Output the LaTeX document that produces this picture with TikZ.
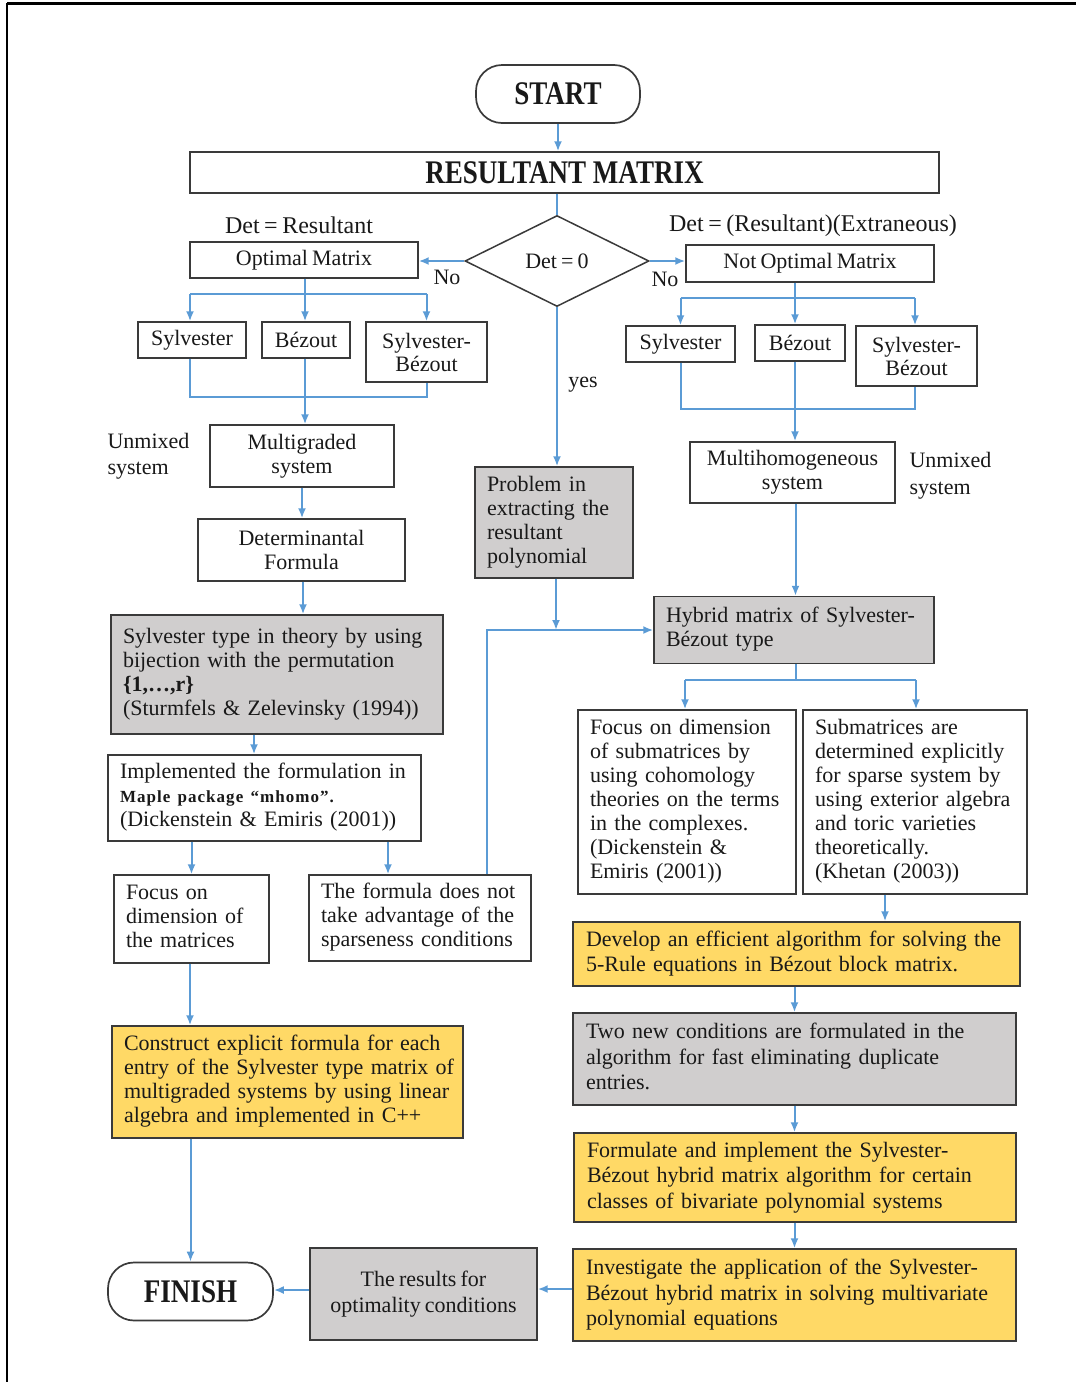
\documentclass[tikz,border=0pt]{standalone}
\usepackage{fontspec}
\setmainfont{Liberation Serif}[WordSpace=0.75]
\newfontfamily\headfont[FakeStretch=0.82]{Liberation Serif}
\newfontfamily\maplefont[LetterSpace=6]{Liberation Serif}
\usetikzlibrary{arrows.meta,shapes.geometric}
\definecolor{arrblue}{HTML}{5B9BD5}
\definecolor{boxgray}{HTML}{D0CECE}
\definecolor{boxyel}{HTML}{FFD966}
\definecolor{edgecol}{HTML}{3A3A3A}
\newcommand\lns[1]{\begin{tabular}{@{}l@{}}#1\end{tabular}}
\begin{document}
\begin{tikzpicture}[x=1pt,y=-1pt,
  every node/.style={font=\fontsize{22}{24}\selectfont, text=black!90},
  base/.style={draw=edgecol, line width=1.4pt, fill=white, inner ysep=0pt},
  cbox/.style n args={2}{base, minimum width=#1, minimum height=#2, inner xsep=4pt, align=center},
  lbox/.style n args={3}{base, minimum width=#1, minimum height=#2, text width=#3, inner xsep=12pt, align=left},
  gfill/.style={fill=boxgray}, yfill/.style={fill=boxyel},
  arr/.style={draw=arrblue, line width=2pt, -{Latex[length=10pt,width=8pt]}},
  ln/.style={draw=arrblue, line width=2pt},
  term/.style={draw=edgecol, line width=1.7pt, rounded corners=26pt, minimum width=#1, minimum height=58pt, inner sep=0pt, font=\headfont\bfseries\fontsize{33}{36}\selectfont},
  lbl/.style={font=\fontsize{24}{26}\selectfont},
  wide/.style={font=\fontsize{22}{25.5}\selectfont}
]
\useasboundingbox (0,0) rectangle (1076,1382);
\draw[line width=3pt] (7,3) -- (1076,3);
\draw[line width=2.5pt] (7,3) -- (7,1382);

% top
\node[term=164pt] (start) at (558,94) {START};
\node[cbox={749pt}{41pt}, font=\headfont\bfseries\fontsize{33}{36}\selectfont] (resm) at (564.5,172.5) {RESULTANT MATRIX};
\node[draw=edgecol, line width=1.5pt, diamond, minimum width=184pt, minimum height=91pt, inner sep=0pt] (dia) at (557,261) {Det = 0};
\node[lbl] (detres) at (299,225) {Det = Resultant};
\node[lbl] (detext) at (813,226) {Det = (Resultant)(Extraneous)};
\node (no1) at (447,277) {No};
\node (no2) at (665,279) {No};
\node (yes) at (583,385) {yes};

% left column
\node[cbox={228pt}{36pt}] (opt) at (304,260) {Optimal Matrix};
\node[cbox={108pt}{36pt}] (sylL) at (192,340) {Sylvester};
\node[cbox={88pt}{36pt}] (bezL) at (306,340) {Bézout};
\node[cbox={121pt}{60pt}, font=\fontsize{22}{23}\selectfont] (sbL) at (426.5,352) {Sylvester-\\Bézout};
\node[cbox={184pt}{62pt}] (multig) at (302,456) {Multigraded\\system};
\node[anchor=west, align=left, font=\fontsize{22}{26}\selectfont] (unmL) at (104,456) {Unmixed\\system};
\node[cbox={207pt}{62pt}] (detf) at (301.5,550) {Determinantal\\Formula};
\node[lbox={332pt}{119pt}{308pt}, gfill] (sylt) at (277,674.5) {\lns{Sylvester type in theory by using\\bijection with the permutation\\\textbf{\{1,…,r\}}\\(Sturmfels \& Zelevinsky (1994))}};
\node[lbox={313pt}{86pt}{289pt}] (impl) at (264.5,798) {\lns{Implemented the formulation in\\{\maplefont\bfseries\fontsize{17}{24}\selectfont Maple package “mhomo”.}\\(Dickenstein \& Emiris (2001))}};
\node[lbox={155pt}{88pt}{131pt}] (focL) at (191.5,919) {\lns{Focus on\\dimension of\\the matrices}};
\node[lbox={222pt}{86pt}{198pt}] (form) at (420,918) {\lns{The formula does not\\take advantage of the\\sparseness conditions}};
\node[lbox={351pt}{112pt}{327pt}, yfill] (constr) at (287.5,1082) {\lns{Construct explicit formula for each\\entry of the Sylvester type matrix of\\multigraded systems by using linear\\algebra and implemented in C++}};
\node[term=165pt] (finish) at (190.5,1291.5) {FINISH};
\node[cbox={227pt}{92pt}, gfill, font=\fontsize{22}{26}\selectfont] (res) at (423.5,1294) {The results for\\optimality conditions};

% middle
\node[lbox={158pt}{111pt}{134pt}, gfill] (prob) at (554,522.5) {\lns{Problem in\\extracting the\\resultant\\polynomial}};

% right column
\node[cbox={248pt}{37pt}] (notopt) at (810,263.5) {Not Optimal Matrix};
\node[cbox={109pt}{36pt}] (sylR) at (680.5,344) {Sylvester};
\node[cbox={90pt}{36pt}] (bezR) at (800,343) {Bézout};
\node[cbox={121pt}{60pt}, font=\fontsize{22}{23}\selectfont] (sbR) at (916.5,356) {Sylvester-\\Bézout};
\node[cbox={205pt}{61pt}] (multih) at (792.5,472.5) {Multihomogeneous\\system};
\node[anchor=west, align=left, font=\fontsize{22}{27}\selectfont] (unmR) at (906,476) {Unmixed\\system};
\node[lbox={280pt}{67pt}{256pt}, gfill] (hyb) at (794,630) {\lns{Hybrid matrix of Sylvester-\\Bézout type}};
\node[lbox={218pt}{184pt}{194pt}] (focR) at (687,802) {\lns{Focus on dimension\\of submatrices by\\using cohomology\\theories on the terms\\in the complexes.\\(Dickenstein \&\\Emiris (2001))}};
\node[lbox={224pt}{184pt}{200pt}] (subm) at (915,802) {\lns{Submatrices are\\determined explicitly\\for sparse system by\\using exterior algebra\\and toric varieties\\theoretically.\\(Khetan (2003))}};
\node[lbox={447pt}{64pt}{421pt}, yfill, wide, inner xsep=13pt] (dev) at (796.5,954) {\lns{Develop an efficient algorithm for solving the\\5-Rule equations in Bézout block matrix.}};
\node[lbox={443pt}{92pt}{417pt}, gfill, wide, inner xsep=13pt] (two) at (794.5,1059) {\lns{Two new conditions are formulated in the\\algorithm for fast eliminating duplicate\\entries.}};
\node[lbox={442pt}{89pt}{416pt}, yfill, wide, inner xsep=13pt] (formu) at (795,1177.5) {\lns{Formulate and implement the Sylvester-\\Bézout hybrid matrix algorithm for certain\\classes of bivariate polynomial systems}};
\node[lbox={443pt}{92pt}{417pt}, yfill, wide, inner xsep=13pt] (inv) at (794.5,1295) {\lns{Investigate the application of the Sylvester-\\Bézout hybrid matrix in solving multivariate\\polynomial equations}};

% bus coordinates
\coordinate (bL1) at (305,294);
\coordinate (bL2) at (305,397);
\coordinate (bR1) at (795,298);
\coordinate (bR2) at (795,409);
\coordinate (bH) at (796,680);

% connectors top
\draw[arr] (start.south) -- (start.south |- resm.north);
\draw[ln] (resm.south -| dia.north) -- (dia.north);
\draw[arr] (dia.west) -- (dia.west -| opt.east);
\draw[arr] (dia.east) -- (dia.east -| notopt.west);
\draw[arr] (dia.south) -- (dia.south |- prob.north);

% left branch
\draw[ln] (opt.south -| bL1) -- (bL1);
\draw[ln] ([xshift=-2]sylL.north |- bL1) -- (sbL.north |- bL1);
\draw[arr] ([xshift=-2]sylL.north |- bL1) -- ([xshift=-2]sylL.north);
\draw[arr] (bL1) -- (bL1 |- bezL.north);
\draw[arr] (sbL.north |- bL1) -- (sbL.north);
\draw[ln] ([xshift=-2]sylL.south) -- ([xshift=-2]sylL.south |- bL2) -- (sbL.south |- bL2) -- (sbL.south);
\draw[arr] (bL1 |- bezL.south) -- (bL1 |- multig.north);
\draw[arr] (multig.south) -- (multig.south |- detf.north);
\draw[arr] ([xshift=1.5]detf.south) -- ([xshift=1.5]detf.south |- sylt.north);
\draw[arr] ([xshift=-10.5]impl.north |- sylt.south) -- ([xshift=-10.5]impl.north);
\draw[arr] (focL.north |- impl.south) -- (focL.north);
\draw[arr] ([xshift=-32]form.north |- impl.south) -- ([xshift=-32]form.north);
\draw[arr] ([xshift=67]form.north) |- (hyb.west);
\draw[arr] ([xshift=2]prob.south) -- ([xshift=2]prob.south |- hyb.west);
\draw[arr] ([xshift=-1.5]focL.south) -- ([xshift=-1.5]focL.south |- constr.north);
\draw[arr] (constr.south -| finish.north) -- (finish.north);

% right branch
\draw[ln] (notopt.south -| bR1) -- (bR1);
\draw[ln] (sylR.north |- bR1) -- ([xshift=-1.5]sbR.north |- bR1);
\draw[arr] (sylR.north |- bR1) -- (sylR.north);
\draw[arr] (bR1) -- (bR1 |- bezR.north);
\draw[arr] ([xshift=-1.5]sbR.north |- bR1) -- ([xshift=-1.5]sbR.north);
\draw[ln] (sylR.south) -- (sylR.south |- bR2) -- ([xshift=-1.5]sbR.south |- bR2) -- ([xshift=-1.5]sbR.south);
\draw[arr] (bR2 |- bezR.south) -- (bR2 |- multih.north);
\draw[arr] ([xshift=3]multih.south) -- ([xshift=3]multih.south |- hyb.north);
\draw[ln] (bH |- hyb.south) -- (bH);
\draw[ln] ([xshift=-2]focR.north |- bH) -- ([xshift=1]subm.north |- bH);
\draw[arr] ([xshift=-2]focR.north |- bH) -- ([xshift=-2]focR.north);
\draw[arr] ([xshift=1]subm.north |- bH) -- ([xshift=1]subm.north);
\draw[arr] ([xshift=-30]subm.south) -- ([xshift=-30]subm.south |- dev.north);
\draw[arr] (two.north |- dev.south) -- (two.north);
\draw[arr] (two.south) -- (two.south |- formu.north);
\draw[arr] (formu.south -| two.south) -- (two.south |- inv.north);
\draw[arr] ([yshift=6]inv.west) -- ([yshift=6]inv.west -| res.east);
\draw[arr] ([yshift=4]res.west) -- ([yshift=4]res.west -| finish.east);
\end{tikzpicture}
\end{document}
